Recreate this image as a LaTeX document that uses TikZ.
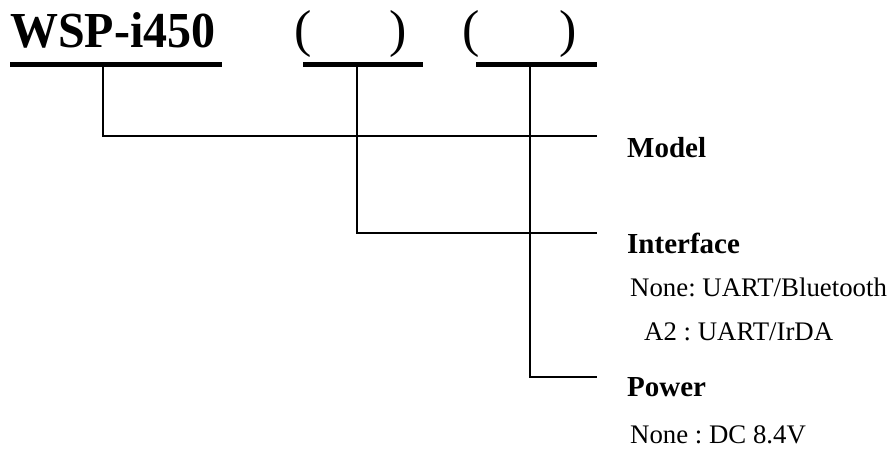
\documentclass[tikz,border=0pt]{standalone}
\usepackage{fontspec}
\setmainfont{Liberation Serif}
\begin{document}
\frenchspacing
\begin{tikzpicture}[x=1pt,y=-1pt,
  conn/.style={line width=1.6pt},
  bar/.style={fill=black,inner sep=0pt,minimum height=5.5pt},
  title/.style={anchor=base west,inner sep=0pt,font=\fontsize{48}{50}\selectfont\bfseries},
  paren/.style={anchor=base west,inner sep=0pt,font=\fontsize{52}{54}\selectfont},
  lbl/.style={anchor=base west,inner sep=0pt,font=\fontsize{29}{31}\selectfont\bfseries},
  opt/.style={anchor=base west,inner sep=0pt,font=\fontsize{26.8}{29}\selectfont}]
\useasboundingbox (0,0) rectangle (889,450);
% title
\node[title,yscale=1.05] (t) at (10,47) {WSP-i450};
\node[paren] (p1) at (294,46) {(};
\node[paren] (p2) at (389,46) {)};
\node[paren] (p3) at (462,46) {(};
\node[paren] (p4) at (559,46) {)};
% bars
\node[bar,minimum width=212pt] (b1) at (116,64.5) {};
\node[bar,minimum width=120pt] (b2) at (363,64.5) {};
\node[bar,minimum width=121pt] (b3) at (536.5,64.5) {};
% labels
\node[lbl] (model) at (627,157) {Model};
\node[lbl] (iface) at (627,253) {Interface};
\node[opt] (i1) at (630,296) {None: UART/Bluetooth};
\node[opt] (i2) at (644,340) {A2 : UART/IrDA};
\node[lbl] (power) at (627,396) {Power};
\node[opt] (p1o) at (630,443) {None : DC 8.4V};
% connector ends
\coordinate (mEnd) at (597,136);
\coordinate (iEnd) at (597,233);
\coordinate (pEnd) at (597,377);
\draw[conn] ([xshift=-13pt]b1.south) |- (mEnd);
\draw[conn] ([xshift=-6pt]b2.south) |- (iEnd);
\draw[conn] ([xshift=-6.5pt]b3.south) |- (pEnd);
\end{tikzpicture}
\end{document}
